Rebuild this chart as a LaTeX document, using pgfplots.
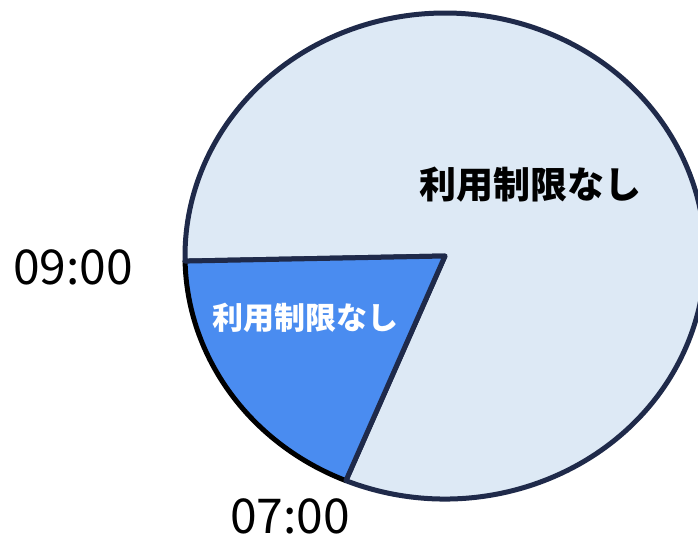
\documentclass[border=0pt]{standalone}
\usepackage{pgfplots}
\pgfplotsset{compat=1.18}
\usepackage{fontspec}
\newfontfamily\cjk{Noto Sans CJK JP}

\definecolor{edge}{HTML}{1F2A4A}
\definecolor{bigfill}{HTML}{DDE9F5}
\definecolor{slicefill}{HTML}{4A8CF0}

% pie: centre, radii (axis units = pt), slice boundaries (parametric angles)
\def\cx{445}\def\cy{282}
\def\rx{260}\def\ry{243}
\def\aStart{181.2}   % 09:00
\def\aEnd{247.6}     % 07:00

\begin{document}
\begin{tikzpicture}
\begin{axis}[
    hide axis,
    scale only axis,
    width=698pt, height=538pt,
    xmin=0, xmax=698, ymin=0, ymax=538,
    clip=false,
]
% large slice 07:00 -> 09:00 (the rest of the clock)
\pgfmathsetmacro\bEnd{\aStart+360}
\filldraw[fill=bigfill, draw=edge, line width=5pt, line join=round]
    (axis cs:\cx,\cy) -- ++({\rx*cos(\aEnd)*1pt},{\ry*sin(\aEnd)*1pt})
    arc[start angle=\aEnd, end angle=\bEnd, x radius=\rx pt, y radius=\ry pt] -- cycle;
% small slice 09:00 -> 07:00
\fill[slicefill]
    (axis cs:\cx,\cy) -- ++({\rx*cos(\aStart)*1pt},{\ry*sin(\aStart)*1pt})
    arc[start angle=\aStart, end angle=\aEnd, x radius=\rx pt, y radius=\ry pt] -- cycle;
\draw[black, line width=5pt]
    (axis cs:\cx,\cy) ++({\rx*cos(\aStart)*1pt},{\ry*sin(\aStart)*1pt})
    arc[start angle=\aStart, end angle=\aEnd, x radius=\rx pt, y radius=\ry pt];
\draw[edge, line width=5pt, line join=round, line cap=round]
    (axis cs:\cx,\cy) ++({\rx*cos(\aStart)*1pt},{\ry*sin(\aStart)*1pt})
    -- (axis cs:\cx,\cy) -- ++({\rx*cos(\aEnd)*1pt},{\ry*sin(\aEnd)*1pt});

\node[font=\cjk\bfseries\fontsize{37}{40}\selectfont, text=black]
    at (axis cs:530,353) {利用制限なし};
\node[font=\cjk\bfseries\fontsize{31}{35}\selectfont, text=white]
    at (axis cs:305,220) {利用制限なし};
\node[font=\cjk\fontsize{48}{52}\selectfont] at (axis cs:73,271) {09:00};
\node[font=\cjk\fontsize{48}{52}\selectfont, inner sep=0pt] at (axis cs:290,22) {07:00};
\end{axis}
\pgfresetboundingbox
\path[use as bounding box] (0,0) rectangle (698pt,538pt);
\end{tikzpicture}
\end{document}
